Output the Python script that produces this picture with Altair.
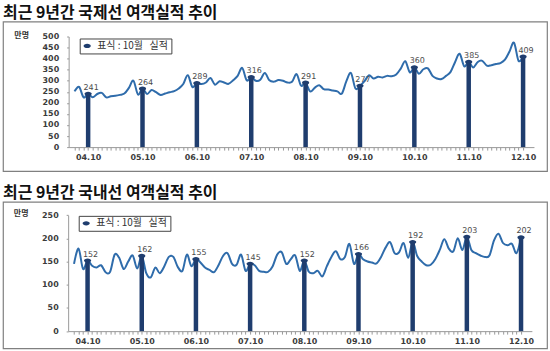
import json
import altair as alt
import pandas as pd

# ---------------- data ----------------
# monthly series, July 2004 .. October 2012 (100 months), unit: 10,000 persons
intl_values = [
    252, 272, 225, 241, 225, 240,
    245, 225, 230, 232, 236, 242, 268, 300, 238, 264, 240, 258,
    248, 236, 242, 248, 253, 265, 285, 325, 272, 289, 285, 292,
    312, 282, 298, 292, 286, 302, 322, 358, 302, 316, 300, 305,
    335, 302, 296, 303, 300, 292, 295, 330, 278, 291, 252, 268,
    280, 262, 260, 256, 252, 242, 298, 335, 265, 277, 298, 325,
    310, 318, 315, 322, 320, 328, 355, 388, 338, 360, 332, 352,
    356, 322, 310, 308, 322, 340, 385, 422, 365, 385, 360, 385,
    390, 368, 370, 376, 380, 395, 432, 472, 390, 409,
]
dom_values = [
    145, 178, 134, 152, 141, 137,
    142, 127, 128, 165, 158, 134, 150, 163, 135, 162, 125, 116,
    137, 125, 140, 160, 160, 138, 130, 165, 140, 155, 148, 137,
    132, 127, 142, 162, 168, 145, 143, 165, 130, 145, 142, 130,
    128, 128, 140, 165, 170, 145, 155, 163, 130, 152, 128, 125,
    130, 118, 140, 160, 172, 155, 160, 188, 145, 166, 155, 150,
    148, 146, 160, 180, 192, 168, 170, 190, 158, 192, 162, 150,
    142, 143, 155, 175, 198, 178, 172, 200, 175, 203, 175, 168,
    163, 160, 163, 195, 210, 190, 185, 188, 168, 202,
]
oct_labels = ["04.10", "05.10", "06.10", "07.10", "08.10", "09.10", "10.10", "11.10", "12.10"]
oct_index = [3, 15, 27, 39, 51, 63, 75, 87, 99]
intl_oct = [241, 264, 289, 316, 291, 277, 360, 385, 409]
dom_oct = [152, 162, 155, 145, 152, 166, 192, 203, 202]
legend_label = "표식\u00a0:\u00a010월\u00a0\u00a0\u00a0실적"
titles = ["최근 9년간 국제선 여객실적 추이", "최근 9년간 국내선 여객실적 추이"]
y_ticks_intl = [0, 50, 100, 150, 200, 250, 300, 350, 400, 450, 500]
y_ticks_dom = [0, 50, 100, 150, 200, 250]

NAVY = "#1f3d6e"
LINE = "#2f6cab"
ELLIPSE = "M-1,0A1,0.6,0,1,1,1,0A1,0.6,0,1,1,-1,0Z"
# legend symbol: same ellipse, with blank lead-in room to its left
LEG_SYMBOL = "M-7,0M-1,0A1,0.6,0,1,1,1,0A1,0.6,0,1,1,-1,0Z"
KFONT = "Noto Sans CJK KR"


def panel(values, oct_vals, title, ymax, yticks, height, yr, xr, leg_xy, unit_y):
    df = pd.DataFrame({"i": list(range(len(values))), "v": values})
    odf = pd.DataFrame({"i": oct_index, "v": oct_vals, "s": [legend_label] * len(oct_vals)})
    label_expr = (
        "datum.value % 12 == 3 ? " + json.dumps(oct_labels) + "[(datum.value - 3) / 12] : ''"
    )
    x = alt.X(
        "i:Q",
        scale=alt.Scale(domain=[-1.3, 101.4], range=xr, nice=False, zero=False),
        axis=alt.Axis(
            values=list(range(len(values))), labelExpr=label_expr, labelOverlap=False,
            labelFlush=False, tickSize=3, tickColor="#9a9a9a", domainColor="#9a9a9a",
            labelFont="DejaVu Sans", labelFontWeight="bold", labelFontSize=8,
            labelColor="#3a3a3a", labelPadding=3, title=None, grid=False,
            offset=-(height - yr[0]),
        ),
    )
    y = alt.Y(
        "v:Q",
        scale=alt.Scale(domain=[0, ymax], range=yr, nice=False, zero=True),
        axis=alt.Axis(
            values=yticks, tickSize=2, tickColor="#9a9a9a", domainColor="#9a9a9a",
            labelFont="DejaVu Sans", labelFontWeight="bold", labelFontSize=8,
            labelColor="#3a3a3a", labelPadding=8, grid=False, offset=-xr[0],
            title="만명", titleAngle=0, titleAlign="left", titleBaseline="middle",
            titleX=-55, titleY=unit_y, titleFont=KFONT, titleFontSize=8,
            titleFontWeight="bold", titleColor="#333333",
        ),
    )
    line = alt.Chart(df).mark_line(color=LINE, strokeWidth=2, interpolate="cardinal").encode(x=x, y=y)
    bars = alt.Chart(odf).mark_rule(color=NAVY, strokeWidth=4.5).encode(x=x, y=y, y2=alt.datum(0))
    pts = alt.Chart(odf).mark_point(shape=ELLIPSE, filled=True, size=52, opacity=1).encode(
        x=x, y=y,
        color=alt.Color(
            "s:N", scale=alt.Scale(range=[NAVY]),
            legend=alt.Legend(
                orient="none", legendX=leg_xy[0], legendY=leg_xy[1], title=None,
                strokeColor="#444444", fillColor="white", padding=2.5,
                symbolType=LEG_SYMBOL, symbolSize=52, symbolFillColor=NAVY,
                symbolStrokeWidth=0, labelOffset=5,
                labelFont=KFONT, labelFontSize=10, labelColor="#333333",
            ),
        ),
    )
    txt = alt.Chart(odf).mark_text(
        dx=3, dy=-4, align="center", baseline="alphabetic",
        font="DejaVu Sans", fontSize=8, color="#4a4a4a",
    ).encode(x=x, y=y, text="v:Q")
    return alt.layer(line, bars, pts, txt).properties(
        width=546, height=height,
        title=alt.TitleParams(
            title, anchor="start", font=KFONT, fontSize=16, fontWeight="bold",
            color="#111111", offset=1,
        ),
    )


top = panel(intl_values, intl_oct, titles[0], 500, y_ticks_intl, 150,
            [126, 15], [65.9, 532.9], [77, 17], 14.5)
bottom = panel(dom_values, dom_oct, titles[1], 250, y_ticks_dom, 147,
               [129.7, 13.3], [65.4, 530.8], [76, 14], 12)

chart = (
    alt.vconcat(top, bottom, spacing=12)
    .resolve_scale(color="independent")
    .resolve_legend(color="independent")
    .properties(padding={"left": 2, "top": 3, "right": 2, "bottom": 0}, background="white")
    .configure_view(stroke="#808080", strokeWidth=1.2)
)
chart.save("out.html", embed_options={"renderer": "svg", "actions": False})
